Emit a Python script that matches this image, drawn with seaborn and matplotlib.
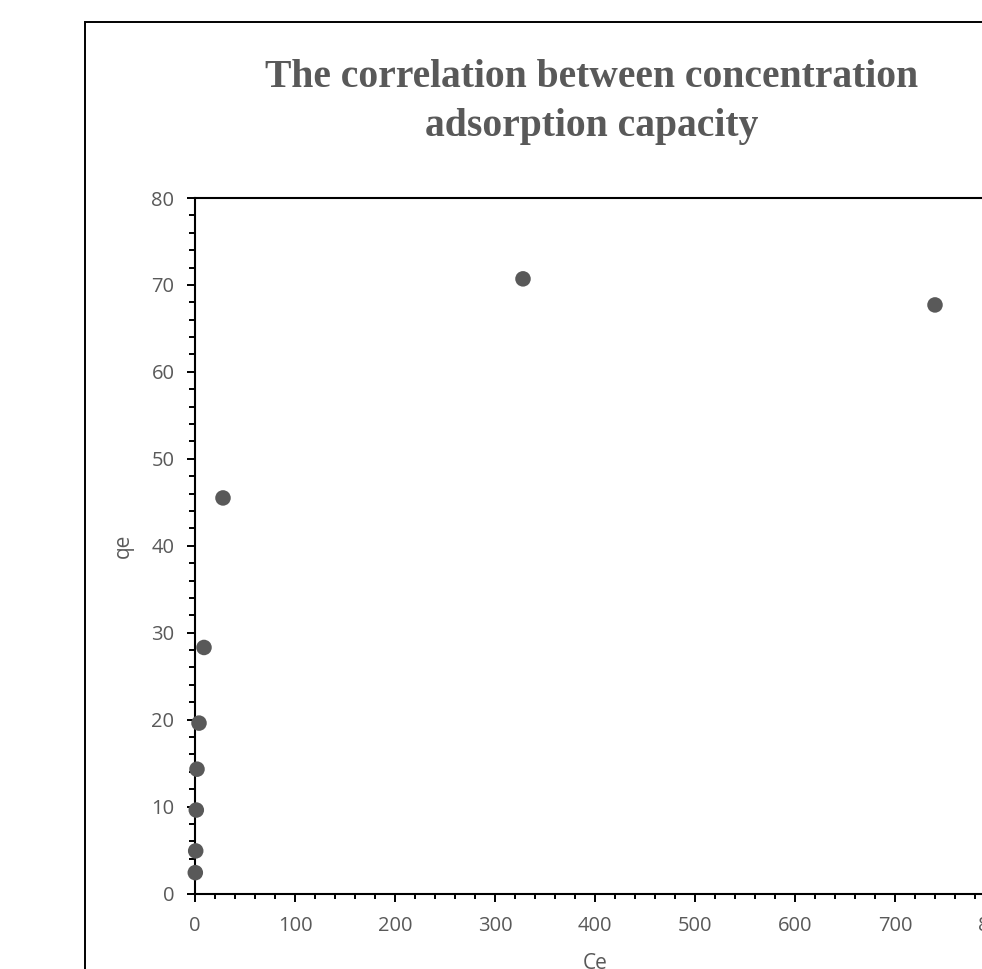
import matplotlib
matplotlib.use("Agg")
import matplotlib.pyplot as plt
import seaborn as sns
import pandas as pd
from matplotlib.ticker import MultipleLocator
from matplotlib.patches import Rectangle

# Data
ce = [0.3, 0.7, 1.3, 2.0, 4.0, 9.0, 28.0, 328.0, 740.0]
qe = [2.4, 4.9, 9.6, 14.3, 19.6, 28.3, 45.5, 70.7, 67.7]
title_lines = ["The correlation between concentration", "adsorption capacity"]
x_label = "Ce"
y_label = "qe"

df = pd.DataFrame({"Ce": ce, "qe": qe})

sns.set_style("white")
plt.rcParams["font.family"] = ["Open Sans", "DejaVu Sans"]

W, H = 982, 969
fig = plt.figure(figsize=(W / 100, H / 100), dpi=100)
fig.patch.set_facecolor("white")

gray = "#595959"

# outer chart border
fig.patches.append(Rectangle((85 / W, -0.1), 1.2, 1 - 22 / H + 0.1,
                             transform=fig.transFigure, fill=False,
                             edgecolor="#000000", linewidth=1.4, clip_on=False))

ax = fig.add_axes([195 / W, 1 - 893.5 / H, 800 / W, (893.5 - 198) / H])
sns.scatterplot(data=df, x="Ce", y="qe", ax=ax, color=gray, s=125,
                edgecolor="none", linewidth=0, clip_on=False, zorder=5)

ax.set_xlim(0, 800)
ax.set_ylim(0, 80)
ax.xaxis.set_major_locator(MultipleLocator(100))
ax.xaxis.set_minor_locator(MultipleLocator(20))
ax.yaxis.set_major_locator(MultipleLocator(10))
ax.yaxis.set_minor_locator(MultipleLocator(2))

for side in ["left", "bottom", "top"]:
    ax.spines[side].set_visible(True)
    ax.spines[side].set_color("black")
    ax.spines[side].set_linewidth(1.5)
ax.spines["right"].set_visible(False)

ax.tick_params(axis="x", which="major", direction="out", length=5.5, width=1.4,
               color="black", labelsize=14.5, labelcolor=gray, pad=11, bottom=True)
ax.tick_params(axis="x", which="minor", direction="out", length=3.8, width=1.4,
               color="black", bottom=True)
ax.tick_params(axis="y", which="major", direction="out", length=5.8, width=1.4,
               color="black", labelsize=14.5, labelcolor=gray, pad=9, left=True)
ax.tick_params(axis="y", which="minor", direction="out", length=4.3, width=1.4,
               color="black", left=True)

ax.set_xlabel(x_label, fontsize=15, color=gray)
ax.set_ylabel(y_label, fontsize=15, color=gray)
ax.xaxis.set_label_coords(0.5, -(953 - 893.5) / 695.5)
ax.yaxis.set_label_coords((134 - 195) / 800, (893.5 - 546) / 695.5)

fig.text(592 / W, 1 - 102 / H, "\n".join(title_lines), ha="center", va="center",
         fontsize=28.5, fontweight="bold", family=["Liberation Serif"],
         color=gray, linespacing=1.42)

fig.savefig("out.png", dpi=100, facecolor="white")
